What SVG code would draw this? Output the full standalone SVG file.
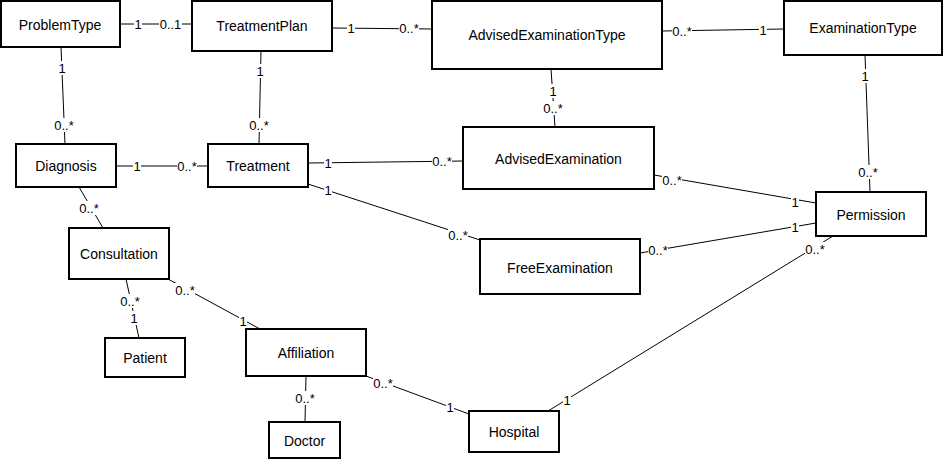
<svg xmlns="http://www.w3.org/2000/svg" width="944" height="459" viewBox="0 0 944 459">
<style>
.box{fill:#fff;stroke:#000;stroke-width:2}
.nm{font-family:"Liberation Sans",Arial,Helvetica,sans-serif;font-size:14px;fill:#000;text-anchor:middle;dominant-baseline:central}
.ln{stroke:#000;stroke-width:1;fill:none}
.lb{font-family:"Liberation Sans",Arial,Helvetica,sans-serif;font-size:13px;fill:#000;text-anchor:middle;dominant-baseline:central}
.bg{fill:#fff}
</style>
<rect width="944" height="459" fill="#fff"/>
<g id="connectors">
<line class="ln" x1="120" y1="24" x2="192" y2="24"/>
<line class="ln" x1="332" y1="28" x2="432" y2="29"/>
<line class="ln" x1="662" y1="31" x2="784" y2="29"/>
<line class="ln" x1="61" y1="47" x2="65" y2="144"/>
<line class="ln" x1="261" y1="51" x2="259" y2="144"/>
<line class="ln" x1="116" y1="166" x2="208" y2="166"/>
<line class="ln" x1="79" y1="187" x2="103" y2="228"/>
<line class="ln" x1="308" y1="163" x2="463" y2="161"/>
<line class="ln" x1="308" y1="184" x2="480" y2="240"/>
<line class="ln" x1="551" y1="69" x2="555" y2="127"/>
<line class="ln" x1="865" y1="55" x2="870" y2="192"/>
<line class="ln" x1="654" y1="175" x2="816" y2="203"/>
<line class="ln" x1="640" y1="253" x2="816" y2="223"/>
<line class="ln" x1="548" y1="411" x2="833" y2="236"/>
<line class="ln" x1="126" y1="279" x2="139" y2="338"/>
<line class="ln" x1="168" y1="279" x2="260" y2="329"/>
<line class="ln" x1="306" y1="376" x2="305" y2="422"/>
<line class="ln" x1="366" y1="376" x2="469" y2="414"/>
</g>
<g id="labels">
<rect class="bg" x="134" y="17" width="8" height="14"/><text class="lb" x="138" y="24">1</text>
<rect class="bg" x="159" y="17" width="23" height="14"/><text class="lb" x="170.5" y="24">0..1</text>
<rect class="bg" x="347" y="21" width="8" height="14"/><text class="lb" x="351" y="28">1</text>
<rect class="bg" x="399" y="21" width="20" height="14"/><text class="lb" x="409" y="28">0..*</text>
<rect class="bg" x="672" y="24" width="20" height="14"/><text class="lb" x="682" y="31">0..*</text>
<rect class="bg" x="759" y="23" width="8" height="14"/><text class="lb" x="763" y="30">1</text>
<rect class="bg" x="58" y="61" width="8" height="14"/><text class="lb" x="62" y="68">1</text>
<rect class="bg" x="54" y="118" width="20" height="14"/><text class="lb" x="64" y="125">0..*</text>
<rect class="bg" x="256" y="64" width="8" height="14"/><text class="lb" x="260" y="71">1</text>
<rect class="bg" x="249" y="118" width="20" height="14"/><text class="lb" x="259" y="125">0..*</text>
<rect class="bg" x="133" y="159" width="8" height="14"/><text class="lb" x="137" y="166">1</text>
<rect class="bg" x="177" y="159" width="20" height="14"/><text class="lb" x="187" y="166">0..*</text>
<rect class="bg" x="79" y="201" width="20" height="14"/><text class="lb" x="89" y="208">0..*</text>
<rect class="bg" x="324" y="156" width="8" height="14"/><text class="lb" x="328" y="163">1</text>
<rect class="bg" x="432" y="154" width="20" height="14"/><text class="lb" x="442" y="161">0..*</text>
<rect class="bg" x="324" y="183" width="8" height="14"/><text class="lb" x="328" y="190">1</text>
<rect class="bg" x="448" y="228" width="20" height="14"/><text class="lb" x="458" y="235">0..*</text>
<rect class="bg" x="549" y="84" width="8" height="14"/><text class="lb" x="553" y="91">1</text>
<rect class="bg" x="543" y="101" width="20" height="14"/><text class="lb" x="553" y="108">0..*</text>
<rect class="bg" x="861" y="69" width="8" height="14"/><text class="lb" x="865" y="76">1</text>
<rect class="bg" x="858" y="165" width="20" height="14"/><text class="lb" x="868" y="172">0..*</text>
<rect class="bg" x="662" y="173" width="20" height="14"/><text class="lb" x="672" y="180">0..*</text>
<rect class="bg" x="791" y="195" width="8" height="14"/><text class="lb" x="795" y="202">1</text>
<rect class="bg" x="648" y="243" width="20" height="14"/><text class="lb" x="658" y="250">0..*</text>
<rect class="bg" x="791" y="220" width="8" height="14"/><text class="lb" x="795" y="227">1</text>
<rect class="bg" x="805" y="242" width="20" height="14"/><text class="lb" x="815" y="249">0..*</text>
<rect class="bg" x="563" y="393" width="8" height="14"/><text class="lb" x="567" y="400">1</text>
<rect class="bg" x="120" y="294" width="20" height="14"/><text class="lb" x="130" y="301">0..*</text>
<rect class="bg" x="130" y="311" width="8" height="14"/><text class="lb" x="134" y="318">1</text>
<rect class="bg" x="175" y="283" width="20" height="14"/><text class="lb" x="185" y="290">0..*</text>
<rect class="bg" x="239" y="314" width="8" height="14"/><text class="lb" x="243" y="321">1</text>
<rect class="bg" x="295" y="391" width="20" height="14"/><text class="lb" x="305" y="398">0..*</text>
<rect class="bg" x="373" y="376" width="20" height="14"/><text class="lb" x="383" y="383">0..*</text>
<rect class="bg" x="446" y="400" width="8" height="14"/><text class="lb" x="450" y="407">1</text>
</g>
<g id="ProblemType"><rect class="box" x="1" y="1" width="119" height="46"/><text class="nm" x="60" y="25">ProblemType</text></g>
<g id="TreatmentPlan"><rect class="box" x="192" y="1" width="140" height="50"/><text class="nm" x="262" y="26">TreatmentPlan</text></g>
<g id="AdvisedExaminationType"><rect class="box" x="432" y="1" width="230" height="68"/><text class="nm" x="547" y="35">AdvisedExaminationType</text></g>
<g id="ExaminationType"><rect class="box" x="784" y="1" width="158" height="54"/><text class="nm" x="863" y="28">ExaminationType</text></g>
<g id="Diagnosis"><rect class="box" x="16" y="144" width="100" height="43"/><text class="nm" x="66" y="166">Diagnosis</text></g>
<g id="Treatment"><rect class="box" x="208" y="144" width="100" height="43"/><text class="nm" x="258" y="166">Treatment</text></g>
<g id="Consultation"><rect class="box" x="69" y="228" width="100" height="51"/><text class="nm" x="119" y="254">Consultation</text></g>
<g id="AdvisedExamination"><rect class="box" x="463" y="127" width="191" height="62"/><text class="nm" x="558.5" y="159">AdvisedExamination</text></g>
<g id="FreeExamination"><rect class="box" x="480" y="239" width="160" height="55"/><text class="nm" x="560" y="268">FreeExamination</text></g>
<g id="Permission"><rect class="box" x="816" y="192" width="110" height="44"/><text class="nm" x="871" y="215">Permission</text></g>
<g id="Patient"><rect class="box" x="105" y="338" width="80" height="39"/><text class="nm" x="145" y="358">Patient</text></g>
<g id="Affiliation"><rect class="box" x="246" y="329" width="120" height="47"/><text class="nm" x="306" y="353">Affiliation</text></g>
<g id="Doctor"><rect class="box" x="269" y="422" width="71" height="36"/><text class="nm" x="304.5" y="441">Doctor</text></g>
<g id="Hospital"><rect class="box" x="469" y="411" width="90" height="41"/><text class="nm" x="514" y="432">Hospital</text></g>
</svg>
